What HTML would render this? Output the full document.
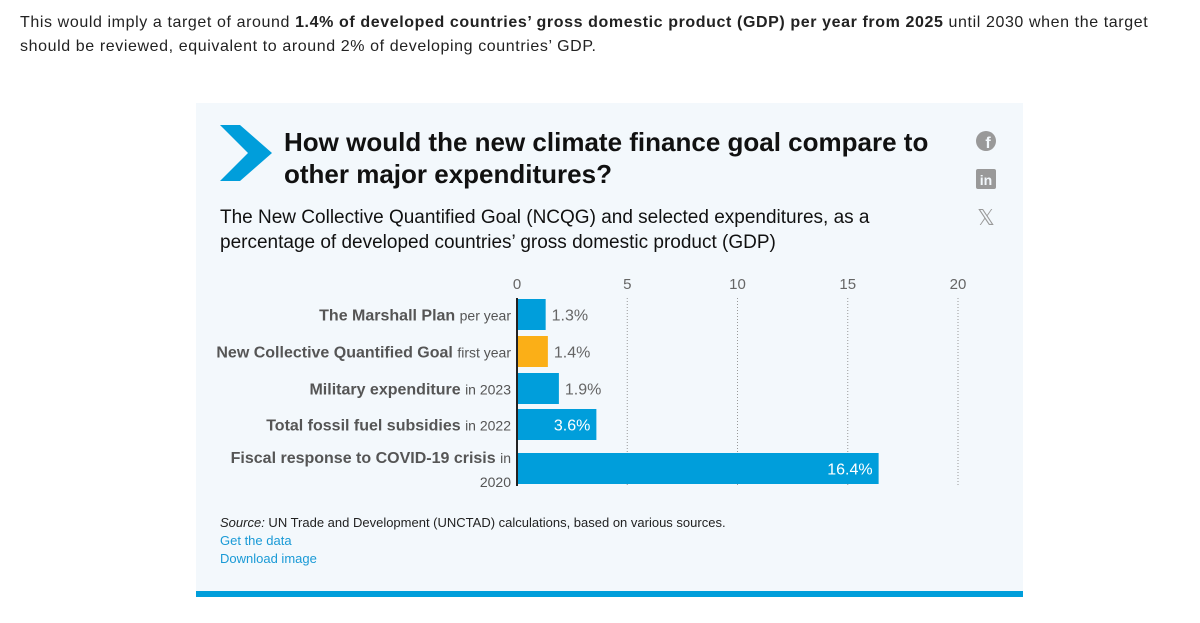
<!DOCTYPE html>
<html><head><meta charset="utf-8"><style>
body{margin:0;width:1200px;height:623px;background:#fff;font-family:"Liberation Sans",sans-serif;position:relative;overflow:hidden}
#intro{position:absolute;left:20px;top:11px;width:1168px;font-size:16px;line-height:24px;color:#222;letter-spacing:0.6px}
#card{position:absolute;left:196px;top:103px;width:827px;height:488px;background:#f3f8fc;border-bottom:6px solid #009edb}
.t{position:absolute;white-space:nowrap}
svg text{font-family:"Liberation Sans Narrow","Liberation Sans",sans-serif}
</style></head><body>
<div id="intro">This would imply a target of around <b>1.4% of developed countries’ gross domestic product (GDP) per year from 2025</b> until 2030 when the target should be reviewed, equivalent to around 2% of developing countries’ GDP.</div>
<div id="card">
<svg class="t" style="left:24px;top:22px" width="52" height="56"><polygon points="0,0 20,0 52,28 20,56 0,56 28,28" fill="#009edb"/></svg>
<div class="t" style="left:88px;top:23px;font-size:26px;font-weight:bold;line-height:32px;color:#111">How would the new climate finance goal compare to<br>other major expenditures?</div>
<div class="t" style="left:24px;top:102px;font-size:19px;line-height:25px;color:#111">The New Collective Quantified Goal (NCQG) and selected expenditures, as a<br>percentage of developed countries’ gross domestic product (GDP)</div>
<svg class="t" style="left:778px;top:26px" width="24" height="100">
<circle cx="12" cy="12" r="10" fill="#999"/><text x="14" y="19" font-size="16" font-weight="bold" fill="#f3f8fc" text-anchor="middle">f</text>
<rect x="2" y="40" width="20" height="20" rx="2" fill="#999"/><text x="12" y="56" font-size="14" font-weight="bold" fill="#f3f8fc" text-anchor="middle">in</text>
<text x="12" y="96" font-size="22" fill="#999" text-anchor="middle">𝕏</text>
</svg>
<div class="t" style="left:24px;top:412px;font-size:13px;color:#222"><i>Source:</i> UN Trade and Development (UNCTAD) calculations, based on various sources.</div>
<div class="t" style="left:24px;top:430px;font-size:13px;color:#1a9ad6">Get the data</div>
<div class="t" style="left:24px;top:448px;font-size:13px;color:#1a9ad6">Download image</div>
</div>
<svg id="chart" style="position:absolute;left:0;top:0" width="1200" height="623"></svg>
<script>
const categories=["The Marshall Plan","New Collective Quantified Goal","Military expenditure","Total fossil fuel subsidies","Fiscal response to COVID-19 crisis"];
const qualifiers=["per year","first year","in 2023","in 2022","in"];
const values=[1.3,1.4,1.9,3.6,16.4];
const valueLabels=["1.3%","1.4%","1.9%","3.6%","16.4%"];
const ticks=[0,5,10,15,20];
const highlight=[false,true,false,false,false];
const svg=document.getElementById('chart');const NS='http://www.w3.org/2000/svg';
const x0=517,x1=958,xmax=20;const x=v=>x0+(x1-x0)*v/xmax;
const rowTop=[299,336,373,409,453],rowH=[31,31,31,31,31];
function mk(t,a){const e=document.createElementNS(NS,t);for(const k in a)e.setAttribute(k,a[k]);svg.appendChild(e);return e;}
ticks.forEach(t=>{
 const tl=mk('text',{x:x(t),y:289,'font-size':15,fill:'#666','text-anchor':'middle'});tl.textContent=t;
 
 
 if(t>0){const g=mk('line',{x1:x(t),x2:x(t),y1:298,y2:486,stroke:'#999','stroke-dasharray':'1,2'});
 
 }
});
values.forEach((v,i)=>{
 const r=mk('rect',{x:x0,y:rowTop[i],width:x(v)-x0,height:rowH[i],fill:highlight[i]?'#fbaf17':'#009edb'});
 
 
 const inside=(x(v)-x0)>70;
 const vl=mk('text',{x:inside?x(v)-6:x(v)+6,y:rowTop[i]+rowH[i]/2+6,'font-size':16,fill:inside?'#fff':'#666','text-anchor':inside?'end':'start'});
 vl.textContent=valueLabels[i];
 
 
 const ly=i<4?rowTop[i]+rowH[i]/2+6:rowTop[i]+10;
 const cl=mk('text',{x:511,y:ly,'text-anchor':'end','font-size':16,fill:'#555'});
 
 
 const b=document.createElementNS(NS,'tspan');b.setAttribute('font-weight','bold');b.textContent=categories[i]+' ';cl.appendChild(b);
 const q=document.createElementNS(NS,'tspan');q.setAttribute('font-size','14');q.textContent=qualifiers[i];cl.appendChild(q);
 if(i==4){const c2=mk('text',{x:511,y:rowTop[i]+34,'text-anchor':'end','font-size':14,fill:'#555'});c2.textContent='2020';
 
 }
});
const ax=mk('line',{x1:x0,x2:x0,y1:298,y2:486,stroke:'#222','stroke-width':2});


</script>
</body></html>
